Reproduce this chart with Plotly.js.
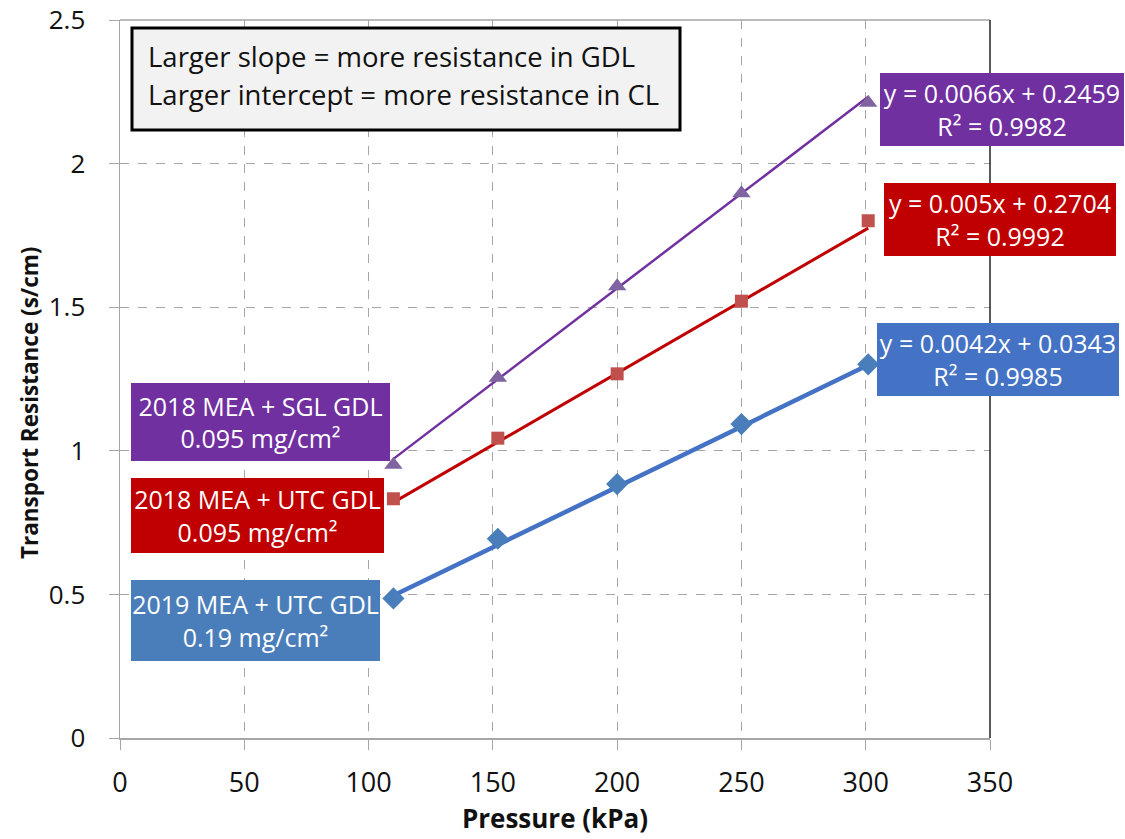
<!DOCTYPE html>
<html>
<head>
<meta charset="utf-8">
<script src="https://cdn.plot.ly/plotly-3.0.1.min.js"></script>
<style>
  html, body { margin: 0; padding: 0; background: #fff; }
  #chart { width: 1125px; height: 839px; }
</style>
</head>
<body>
<div id="chart"></div>
<script>
// Measured pressures (kPa)
const pressure = [110, 152, 200, 250, 301];

// Transport resistance (s/cm) for each MEA / GDL combination
const sglGdl2018 = [0.951, 1.254, 1.573, 1.897, 2.212];
const utcGdl2018 = [0.833, 1.044, 1.268, 1.521, 1.801];
const utcGdl2019 = [0.486, 0.694, 0.884, 1.093, 1.301];

// Linear fits [slope, intercept, R²]
const fitSgl2018 = [0.0066, 0.2459, 0.9982];
const fitUtc2018 = [0.005, 0.2704, 0.9992];
const fitUtc2019 = [0.0042, 0.0343, 0.9985];

// Series labels
const labelSgl2018 = ['2018 MEA + SGL GDL', '0.095 mg/cm²'];
const labelUtc2018 = ['2018 MEA + UTC GDL', '0.095 mg/cm²'];
const labelUtc2019 = ['2019 MEA + UTC GDL', '0.19 mg/cm²'];

const noteLines = ['Larger slope = more resistance in GDL', 'Larger intercept = more resistance in CL'];

const FONT = '"Open Sans", "Noto Sans", "DejaVu Sans", sans-serif';

// Plot area in pixels (left, top, width, height) for placing boxes
const PA = { l: 120, t: 20, w: 870, h: 718 };
const px = v => (v - PA.l) / PA.w;
const py = v => (PA.t + PA.h - v) / PA.h;

function fitLine(fit) {
  const xs = [pressure[0], pressure[pressure.length - 1]];
  return { x: xs, y: xs.map(x => fit[0] * x + fit[1]) };
}
function eqText(fit) {
  return 'y = ' + fit[0] + 'x + ' + fit[1] + '<br>R² = ' + fit[2].toFixed(4);
}

const series = [
  { y: sglGdl2018, fit: fitSgl2018, line: '#7030a0', lw: 2.5, marker: '#8064a2', symbol: 'triangle-up', size: 16 },
  { y: utcGdl2018, fit: fitUtc2018, line: '#c00000', lw: 3, marker: '#c0504d', symbol: 'square', size: 13 },
  { y: utcGdl2019, fit: fitUtc2019, line: '#4472c4', lw: 4.5, marker: '#4a7ebb', symbol: 'diamond', size: 17 }
];

const traces = [];
series.forEach(s => {
  const f = fitLine(s.fit);
  traces.push({ x: f.x, y: f.y, mode: 'lines', line: { color: s.line, width: s.lw }, hoverinfo: 'skip' });
  traces.push({ x: pressure, y: s.y, mode: 'markers',
    marker: { color: s.marker, symbol: s.symbol, size: s.size, line: { width: 0 } } });
});

function box(text, cx, cy, w, h, bg, size) {
  return {
    xref: 'paper', yref: 'paper', x: px(cx), y: py(cy), xanchor: 'center', yanchor: 'middle',
    text: text, showarrow: false, width: w, height: h, bgcolor: bg, borderpad: 0, borderwidth: 0,
    font: { family: FONT, size: size, color: '#ffffff' }, align: 'center', valign: 'middle'
  };
}
function noteLine(text, cy) {
  return {
    xref: 'paper', yref: 'paper', x: px(146), y: py(cy), xanchor: 'left', yanchor: 'middle',
    text: text, showarrow: false, font: { family: FONT, size: 27.5, color: '#111111' }
  };
}

const annotations = [
  noteLine(noteLines[0], 56),
  noteLine(noteLines[1], 95),
  box(eqText(fitSgl2018), 1002, 109.5, 244, 73, '#7030a0', 25),
  box(eqText(fitUtc2018), 1000, 219.5, 232, 73, '#c00000', 25),
  box(eqText(fitUtc2019), 998, 359.5, 242, 73, '#4472c4', 25),
  box(labelSgl2018.join('<br>'), 260.5, 422, 259, 78, '#7030a0', 25),
  box(labelUtc2018.join('<br>'), 257.5, 515.5, 253, 75, '#c00000', 25),
  box(labelUtc2019.join('<br>'), 255.5, 620.5, 249, 81, '#4a7ebb', 25),
  {
    xref: 'paper', yref: 'paper', x: px(30), y: py(403), xanchor: 'center', yanchor: 'middle',
    text: 'Transport Resistance (s/cm)', textangle: -90, showarrow: false,
    font: { family: FONT, size: 22.5, color: '#111111', weight: 'bold' }
  }
];

const layout = {
  width: 1125, height: 839,
  margin: { l: PA.l, r: 1125 - PA.l - PA.w, t: PA.t, b: 839 - PA.t - PA.h },
  paper_bgcolor: '#ffffff', plot_bgcolor: '#ffffff',
  showlegend: false,
  font: { family: FONT, color: '#111111' },
  xaxis: {
    range: [0, 350], dtick: 50, tick0: 0,
    showgrid: true, gridcolor: '#a6a6a6', griddash: 'dash', gridwidth: 1,
    zeroline: false, showline: true, linecolor: '#a6a6a6', linewidth: 1.5,
    ticks: 'outside', ticklen: 10, tickcolor: '#a6a6a6', ticklabelstandoff: 10,
    ticklabeloverflow: 'allow',
    tickfont: { family: FONT, size: 27, color: '#111111' },
    title: { text: 'Pressure (kPa)', standoff: 8, font: { family: FONT, size: 26, color: '#111111', weight: 'bold' } }
  },
  yaxis: {
    range: [0, 2.5], dtick: 0.5, tick0: 0,
    showgrid: true, gridcolor: '#a6a6a6', griddash: 'dash', gridwidth: 1,
    zeroline: false, showline: true, linecolor: '#a6a6a6', linewidth: 1.5,
    ticks: 'outside', ticklen: 10, tickcolor: '#a6a6a6', ticklabelstandoff: 18,
    ticklabeloverflow: 'allow',
    tickfont: { family: FONT, size: 26, color: '#111111' }
  },
  shapes: [
    { type: 'line', xref: 'paper', yref: 'paper', x0: 0, x1: 1, y0: 1, y1: 1, line: { color: '#a6a6a6', width: 1.5 } },
    { type: 'line', xref: 'paper', yref: 'paper', x0: 1, x1: 1, y0: 0, y1: 1, line: { color: '#222222', width: 1.5 } },
    { type: 'rect', xref: 'paper', yref: 'paper', x0: px(132), x1: px(680), y0: py(28), y1: py(130),
      fillcolor: '#f2f2f2', line: { color: '#000000', width: 3 } }
  ],
  annotations: annotations
};

Plotly.newPlot('chart', traces, layout, { displayModeBar: false, staticPlot: true });
</script>
</body>
</html>
